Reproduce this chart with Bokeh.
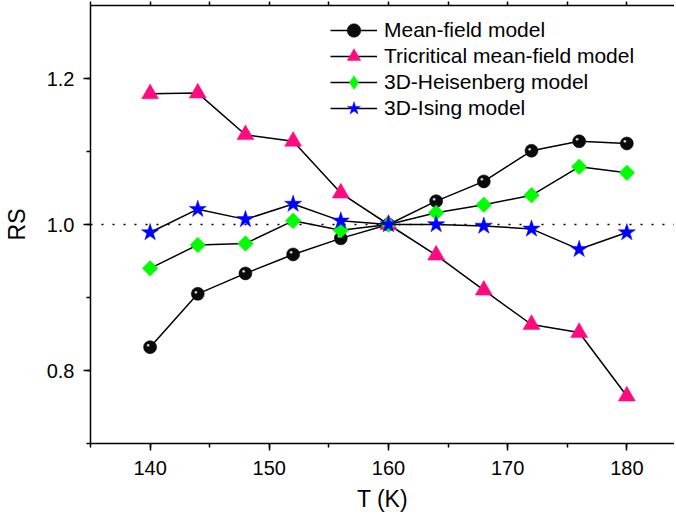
import math
from bokeh.plotting import figure
from bokeh.models import (Range1d, LinearAxis, SingleIntervalTicker, Span,
                          Legend, LegendItem, PrintfTickFormatter,
                          CustomJSTickFormatter, ColumnDataSource)
from bokeh.core.properties import value
from bokeh.embed import file_html
from bokeh.resources import INLINE

# ---- data ----
T = [140, 144, 148, 152, 156, 160, 164, 168, 172, 176, 180]
mean_field = [0.832, 0.905, 0.933, 0.959, 0.981, 1.000, 1.032, 1.059, 1.101, 1.114, 1.111]
tricritical = [1.179, 1.180, 1.123, 1.114, 1.043, 1.000, 0.958, 0.910, 0.863, 0.852, 0.765]
heisenberg = [0.940, 0.972, 0.974, 1.005, 0.992, 1.000, 1.016, 1.027, 1.040, 1.079, 1.071]
ising = [0.989, 1.021, 1.007, 1.028, 1.005, 1.000, 1.000, 0.998, 0.994, 0.966, 0.989]
labels = ["Mean-field model", "Tricritical mean-field model",
          "3D-Heisenberg model", "3D-Ising model"]

FONT = "Liberation Sans"

p = figure(frame_width=584, frame_height=438,
           min_border_left=88, min_border_right=0, min_border_top=5, min_border_bottom=72,
           x_range=Range1d(135, 184.0), y_range=Range1d(0.7, 1.3),
           output_backend="svg", toolbar_location=None,
           x_axis_location=None, y_axis_location=None)
p.outline_line_color = None
p.grid.visible = False
p.background_fill_color = "white"
p.border_fill_color = "white"


def style_axis(ax):
    ax.axis_line_width = 1.5
    ax.axis_line_color = "black"
    ax.major_tick_line_width = 1.5
    ax.minor_tick_line_width = 1.5
    ax.major_tick_line_color = "black"
    ax.minor_tick_line_color = "black"
    ax.major_tick_in = 0
    ax.minor_tick_in = 0
    ax.major_tick_out = 7
    ax.minor_tick_out = 4
    ax.major_label_text_font = FONT
    ax.major_label_text_font_size = "20px"
    ax.major_label_text_color = "black"
    ax.axis_label_text_font = FONT
    ax.axis_label_text_font_size = "23px"
    ax.axis_label_text_font_style = "normal"
    ax.axis_label_text_color = "black"


xaxis = LinearAxis(ticker=SingleIntervalTicker(interval=10, num_minor_ticks=2),
                   axis_label="T (K)")
style_axis(xaxis)
xaxis.major_label_standoff = 10
xaxis.axis_label_standoff = 8
p.add_layout(xaxis, "below")

yaxis = LinearAxis(ticker=SingleIntervalTicker(interval=0.2, num_minor_ticks=2),
                   formatter=PrintfTickFormatter(format="%.1f"), axis_label="RS")
style_axis(yaxis)
yaxis.major_label_standoff = 9
yaxis.axis_label_standoff = 14
p.add_layout(yaxis, "left")

top = LinearAxis(ticker=SingleIntervalTicker(interval=5, num_minor_ticks=0),
                 formatter=CustomJSTickFormatter(code="return ''"))
style_axis(top)
top.major_tick_out = 4
top.major_label_text_font_size = "1px"
top.major_label_standoff = 0
p.add_layout(top, "above")

p.add_layout(Span(location=1.0, dimension="width", line_color="black",
                  line_dash="2 9", line_width=1.5, level="underlay"))

# mean-field: black spheres
l1 = p.line(T, mean_field, line_color="black", line_width=1.5)
s1 = p.scatter(T, mean_field, marker="circle", size=13, fill_color="#0a0a0a",
               line_color="#000000", line_width=0.5)
p.text(T, mean_field, text=value("\u25cf"), text_font_size=value("6px"),
       text_color="#dddddd", text_align="center", text_baseline="middle",
       x_offset=-2, y_offset=-2)

# tricritical: pink triangles
l2 = p.line(T, tricritical, line_color="black", line_width=1.5)
s2 = p.scatter(T, tricritical, marker="triangle", size=17, fill_color="#FF0A80",
               line_color="#FF0A80", line_width=0.5)

# Heisenberg: green diamonds
l3 = p.line(T, heisenberg, line_color="black", line_width=1.5)
s3 = p.scatter(T, heisenberg, marker="square", angle=math.pi / 4, size=11,
               fill_color="#00FF00", line_color="#00EE00", line_width=0.5)

# Ising: blue stars
l4 = p.line(T, ising, line_color="black", line_width=1.5)
s4 = p.scatter(T, ising, marker="star", size=18, fill_color="#0000FF",
               line_color="#0000FF", line_width=0.5)

# legend-only diamond (legend glyphs are drawn unrotated); no visible data
nan_src = ColumnDataSource(data=dict(x=[float("nan")], y=[float("nan")]))
d3 = p.scatter("x", "y", source=nan_src, marker="diamond", size=15,
               fill_color="#00FF00", line_color="#00EE00", line_width=0.5)

# one legend per row so that big legend markers can sit on a tight row pitch
legend_rows = [(labels[0], [l1, s1]), (labels[1], [l2, s2]),
               (labels[2], [l3, d3]), (labels[3], [l4, s4])]
row_bottoms = [396, 370, 344, 318]
for (lab, rends), yb in zip(legend_rows, row_bottoms):
    lg = Legend(items=[LegendItem(label=lab, renderers=rends)],
                location=(240, yb), padding=0, margin=0, spacing=0,
                glyph_width=47, glyph_height=34, label_standoff=7,
                label_text_font=FONT, label_text_font_size="21px",
                label_text_color="black", border_line_color=None,
                background_fill_alpha=0)
    p.add_layout(lg)

open("out.html", "w").write(file_html(p, INLINE))
